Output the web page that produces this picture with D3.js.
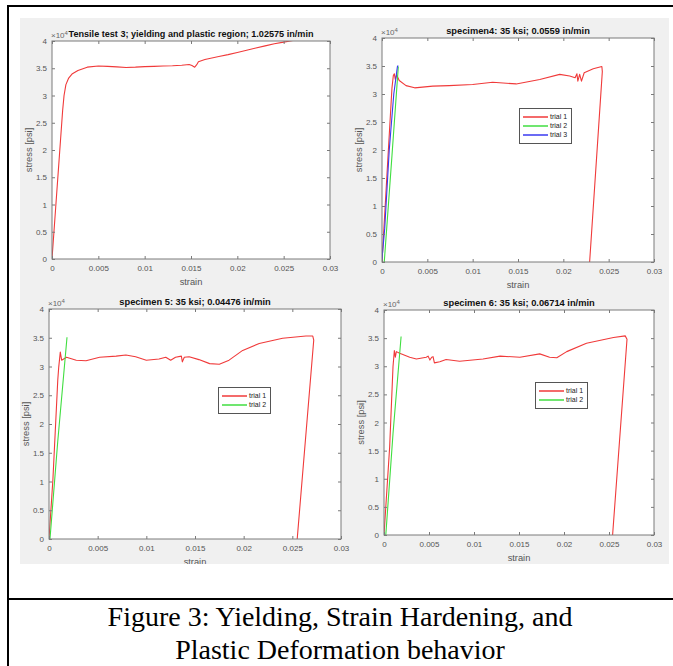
<!DOCTYPE html>
<html>
<head>
<meta charset="utf-8">
<script src="https://cdn.jsdelivr.net/npm/d3@7"></script>
<style>
  body { margin: 0; background: #fff; }
  svg { display: block; font-family: "Liberation Sans", Arial, sans-serif; }
</style>
</head>
<body>
<svg id="fig" width="673" height="666"></svg>
<script>
// ticks shared by all four panels
const xTicks = [0, 0.005, 0.01, 0.015, 0.02, 0.025, 0.03];
const xTickLabels = ["0", "0.005", "0.01", "0.015", "0.02", "0.025", "0.03"];
const yTicks = [0, 5000, 10000, 15000, 20000, 25000, 30000, 35000, 40000];
const yTickLabels = ["0", "0.5", "1", "1.5", "2", "2.5", "3", "3.5", "4"];

const panelTitles = [
  "Tensile test 3; yielding and plastic region; 1.02575 in/min",
  "specimen4: 35 ksi; 0.0559 in/min",
  "specimen 5: 35 ksi; 0.04476 in/min",
  "specimen 6: 35 ksi; 0.06714 in/min"
];
const trialNames = ["trial 1", "trial 2", "trial 3"];
const captionLines = ["Figure 3: Yielding, Strain Hardening, and", "Plastic Deformation behavior"];

// [strain, stress psi]
const test3Trial = [[0,0],[0.0004,9500],[0.0008,19000],[0.00115,27300],[0.0013,30000],[0.0015,32000],[0.0018,33200],
  [0.0022,34000],[0.0028,34600],[0.0038,35200],[0.005,35400],[0.006,35350],[0.007,35250],[0.008,35150],[0.009,35200],
  [0.01,35300],[0.011,35350],[0.012,35400],[0.013,35450],[0.014,35550],[0.0148,35700],[0.0151,35500],[0.0154,35200],
  [0.0156,35600],[0.0158,36200],[0.0165,36600],[0.017,36800],[0.018,37150],[0.019,37500],[0.02,37900],[0.021,38300],
  [0.022,38700],[0.023,39100],[0.024,39500],[0.025,39800],[0.026,40100],[0.0268,40400]];

const spec4Trial1 = [[0,0],[0.0006,17100],[0.0011,31100],[0.00125,33300],[0.00136,33600],[0.00147,32600],[0.00162,33400],
  [0.0019,32400],[0.00265,31500],[0.0036,31100],[0.0056,31400],[0.0074,31500],[0.01,31700],[0.0122,32100],[0.0148,31800],
  [0.0174,32600],[0.0196,33500],[0.0207,33200],[0.0213,32900],[0.0215,33600],[0.0216,32300],[0.0218,33500],[0.022,32300],
  [0.0223,33800],[0.0233,34500],[0.02425,34900],[0.0243,34000],[0.0229,0]];
const spec4Trial2 = [[0.00025,0],[0.0011,19000],[0.0018,34900]];
const spec4Trial3 = [[0,0],[0.00005,1500],[0.0003,6000],[0.0008,20000],[0.0013,30000],[0.0017,34900],[0.00178,35100]];

const spec5Trial1 = [[0,0],[0.0004,10300],[0.0009,27600],[0.001,29900],[0.00116,32500],[0.0013,31100],[0.0018,31600],
  [0.0028,31100],[0.0038,31000],[0.0052,31600],[0.0069,31800],[0.0079,32000],[0.0089,31700],[0.01,31100],[0.0113,31300],
  [0.012,31600],[0.0125,31100],[0.013,31600],[0.0136,31800],[0.0137,30800],[0.0139,31600],[0.0144,31700],[0.0154,31200],
  [0.0165,30500],[0.0175,30400],[0.0185,31100],[0.0199,32800],[0.0216,34000],[0.024,34900],[0.0264,35300],[0.0271,35300],
  [0.0272,34600],[0.0255,0]];
const spec5Trial2 = [[0.0001,0],[0.0009,17000],[0.00185,35100]];

const spec6Trial1 = [[0,0],[0.00063,15700],[0.001,29900],[0.00115,32800],[0.00126,31600],[0.00137,32600],[0.00174,32300],
  [0.00286,31600],[0.0036,31300],[0.0047,31600],[0.0049,31800],[0.0051,31100],[0.0053,31600],[0.00545,31700],[0.0056,30600],
  [0.0062,30800],[0.0069,31200],[0.0084,30900],[0.011,31300],[0.0129,31800],[0.0151,31600],[0.0173,32200],[0.0184,31600],
  [0.0192,31500],[0.0203,32600],[0.0225,34100],[0.0255,35100],[0.0268,35400],[0.027,34800],[0.0254,0]];
const spec6Trial2 = [[0.0002,0],[0.001,18000],[0.0019,35300]];

const RED = "#f03a3a", GREEN = "#40de40", BLUE = "#3a3af0";

const svg = d3.select("#fig");

// page frame
svg.append("rect").attr("x", 0).attr("y", 0).attr("width", 673).attr("height", 666).attr("fill", "#fff");
svg.append("rect").attr("x", 20).attr("y", 18).attr("width", 649).attr("height", 546).attr("fill", "#f0f0f0");
svg.append("clipPath").attr("id", "figclip")
  .append("rect").attr("x", 20).attr("y", 18).attr("width", 649).attr("height", 546);
const fig = svg.append("g").attr("clip-path", "url(#figclip)");

const panels = [
  {box: [52, 330, 41, 259], title: panelTitles[0], titleSize: 9.1, series: [[test3Trial, RED]], legend: null},
  {box: [382, 654, 38, 262], title: panelTitles[1], titleSize: 9.3,
   series: [[spec4Trial1, RED], [spec4Trial2, GREEN], [spec4Trial3, BLUE]], legend: [519, 108]},
  {box: [49, 341, 309, 539], title: panelTitles[2], titleSize: 9.3,
   series: [[spec5Trial1, RED], [spec5Trial2, GREEN]], legend: [218, 387]},
  {box: [384, 654, 310, 535], title: panelTitles[3], titleSize: 9.3,
   series: [[spec6Trial1, RED], [spec6Trial2, GREEN]], legend: [535, 382]}
];

panels.forEach((p, i) => drawPanel(p, i));

function drawPanel(p, i) {
  const [x0, x1, y0, y1] = p.box;
  const x = d3.scaleLinear().domain([0, 0.03]).range([x0, x1]);
  const y = d3.scaleLinear().domain([0, 40000]).range([y1, y0]);
  const g = fig.append("g");

  g.append("rect").attr("x", x0).attr("y", y0).attr("width", x1 - x0).attr("height", y1 - y0).attr("fill", "#fff");

  fig.append("clipPath").attr("id", "ax" + i)
    .append("rect").attr("x", x0).attr("y", y0).attr("width", x1 - x0).attr("height", y1 - y0);

  const line = d3.line().x(d => x(d[0])).y(d => y(d[1]));
  const lines = g.append("g").attr("clip-path", `url(#ax${i})`);
  p.series.forEach(([data, color]) => {
    lines.append("path").datum(data).attr("d", line)
      .attr("fill", "none").attr("stroke", color).attr("stroke-width", 1.1).attr("stroke-linejoin", "round");
  });

  // inward ticks on all four sides, labels on bottom and left
  const styleAxis = sel => {
    sel.select(".domain").remove();
    sel.selectAll(".tick line").attr("stroke", "#7a7a7a");
    sel.selectAll(".tick text").attr("fill", "#555").style("font-size", "8px").style("font-family", "inherit");
  };
  g.append("g").attr("transform", `translate(0,${y1})`)
    .call(d3.axisBottom(x).tickValues(xTicks).tickSize(-3).tickPadding(6).tickFormat((d, k) => xTickLabels[k]))
    .call(styleAxis);
  g.append("g").attr("transform", `translate(0,${y0})`)
    .call(d3.axisTop(x).tickValues(xTicks).tickSize(-3).tickFormat(""))
    .call(styleAxis);
  g.append("g").attr("transform", `translate(${x0},0)`)
    .call(d3.axisLeft(y).tickValues(yTicks).tickSize(-3).tickPadding(5).tickFormat((d, k) => yTickLabels[k]))
    .call(styleAxis);
  g.append("g").attr("transform", `translate(${x1},0)`)
    .call(d3.axisRight(y).tickValues(yTicks).tickSize(-3).tickFormat(""))
    .call(styleAxis);

  g.append("rect").attr("x", x0).attr("y", y0).attr("width", x1 - x0).attr("height", y1 - y0)
    .attr("fill", "none").attr("stroke", "#7a7a7a").attr("stroke-width", 1);

  // exponent
  const ex = g.append("text").attr("x", x0 - 1).attr("y", y0 - 3)
    .attr("fill", "#666").style("font-size", "8px");
  ex.append("tspan").text("\u00d710");
  ex.append("tspan").attr("dy", -3.5).style("font-size", "6px").text("4");

  g.append("text").attr("x", (x0 + x1) / 2).attr("y", y0 - 4).attr("text-anchor", "middle")
    .attr("fill", "#111").style("font-size", p.titleSize + "px").style("font-weight", "bold").text(p.title);

  g.append("text").attr("x", (x0 + x1) / 2).attr("y", y1 + 26).attr("text-anchor", "middle")
    .attr("fill", "#555").style("font-size", "9.3px").text("strain");

  g.append("text").attr("transform", `translate(${x0 - 20},${(y0 + y1) / 2}) rotate(-90)`)
    .attr("text-anchor", "middle").attr("fill", "#555").style("font-size", "9.3px").text("stress [psi]");

  if (p.legend) {
    const [lx, ly] = p.legend;
    const n = p.series.length;
    const lg = g.append("g");
    lg.append("rect").attr("x", lx + 0.5).attr("y", ly + 0.5).attr("width", 52).attr("height", 8 + n * 9)
      .attr("fill", "#fff").attr("stroke", "#555").attr("stroke-width", 1);
    p.series.forEach(([, color], k) => {
      const ry = ly + 9 + k * 9;
      lg.append("line").attr("x1", lx + 4).attr("x2", lx + 29).attr("y1", ry).attr("y2", ry)
        .attr("stroke", color).attr("stroke-width", 1.5);
      lg.append("text").attr("x", lx + 31).attr("y", ry + 2.4).attr("fill", "#222")
        .style("font-size", "7px").text(trialNames[k]);
    });
  }
}

// borders and caption
svg.append("line").attr("x1", 8).attr("x2", 673).attr("y1", 6).attr("y2", 6).attr("stroke", "#000").attr("stroke-width", 2);
svg.append("line").attr("x1", 8).attr("x2", 8).attr("y1", 5).attr("y2", 666).attr("stroke", "#000").attr("stroke-width", 2);
svg.append("line").attr("x1", 8).attr("x2", 673).attr("y1", 599).attr("y2", 599).attr("stroke", "#000").attr("stroke-width", 2);

svg.selectAll("text.caption").data(captionLines).enter().append("text")
  .attr("class", "caption")
  .attr("x", 340).attr("y", (d, k) => 626 + k * 33)
  .attr("text-anchor", "middle")
  .style("font-family", "'Liberation Serif', 'Times New Roman', serif")
  .style("font-size", "28px").attr("fill", "#000")
  .text(d => d);
</script>
</body>
</html>
